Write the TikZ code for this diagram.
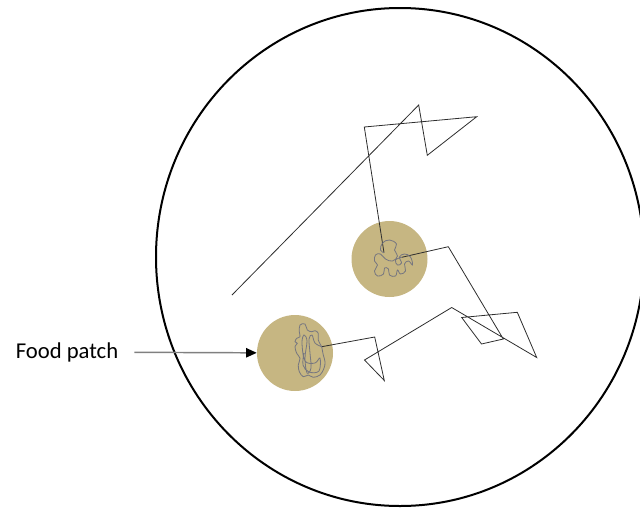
\documentclass[tikz,border=0pt]{standalone}
\usepackage{fontspec}
\setmainfont{Carlito}
\usepackage{xcolor}
\usetikzlibrary{arrows.meta, positioning}
\definecolor{patchtan}{RGB}{198,182,130}
\definecolor{tangle}{RGB}{118,118,128}
\definecolor{walkline}{RGB}{45,45,45}

\begin{document}
\begin{tikzpicture}[
  x=0.75pt, y=-0.75pt,
  patch/.style={circle, fill=patchtan, minimum size=57pt, inner sep=0pt},
  walk/.style={draw=walkline, line width=0.6pt, line join=miter},
  wiggle/.style={draw=tangle, line width=0.6pt},
  label/.style={font=\fontsize{17}{20}\selectfont, inner xsep=12pt},
  arr/.style={-{Triangle[length=8pt, width=7pt, black]}, draw=gray, line width=1.1pt},
]
  \useasboundingbox (0,0) rectangle (640,508);
  \clip (0,0) rectangle (640,508);
  % arena
  \draw[line width=1.5pt] (400,257) ellipse [x radius=183pt, y radius=186.75pt];
  % food patches
  \node[patch] (highpatch) at (389.5,259) {};
  \node[patch] (lowpatch) at (295,353) {};
  % searching walk
  \draw[walk] (232,295) -- (418.7,105) -- (427.3,155.3) -- (476.7,116.7)
    -- (364.3,127) -- (384,252.7);
  \draw[walk] (401.7,257.3) -- (448.3,246.7) -- (503.3,339) -- (481.5,344)
    -- (461.7,317.5) -- (517.3,312.3) -- (536.7,357.5) -- (451.7,307.5)
    -- (364.5,360) -- (384.3,380.5) -- (374.7,337) -- (321.7,346.7);
  % local search inside the patches
  \draw[wiggle, shift={(highpatch.center)}] plot[smooth, tension=0.7] coordinates {
    (-5.5,-6.3) (-9,-9) (-7,-16) (0,-19) (7,-15) (5,-9) (8,-3) (3,2) (-4,0)
    (-9,-5) (-14,-4) (-15,2) (-12,6) (-15,12) (-12,17) (-6,15) (-5,9) (-1,10)
    (0,16) (6,17) (8,11) (11,15) (16,12) (15,5) (19,2) (23,6) (21,-2) (15,-5)
    (10,-2) (12,4) (8,6) (6,1) (12.2,-1.7)};
  \draw[wiggle, shift={(lowpatch.center)}] plot[smooth, tension=0.6] coordinates {
    (26.7,-6.3) (23.3,-13) (23.3,-19.7) (20,-22.3) (16.7,-21.3) (12.3,-23)
    (10,-29) (5,-28) (4.3,-21.3) (5,-16.3) (1.7,-14.7) (0,-11.3) (2.3,-9.7)
    (0,-6.3) (1.7,0.3) (5,5.3) (3.3,12) (4.3,18.7) (8.3,23.7) (13.3,22)
    (18.3,24.3) (25,22) (29,15.3) (30,8.7) (28.3,2) (26.7,-6.3)};
  \draw[wiggle, shift={(lowpatch.center)}] plot[smooth, tension=0.6] coordinates {
    (26.7,-6.3) (20,-10) (17,-18) (14,-14) (15,0) (16,15) (12,20) (10,5)
    (12,-12) (9,-18) (7,-10) (10,8) (20,10) (25,5) (24,18) (14,19) (8,12) (9,0)};
  % label
  \node[label] (foodlabel) at (67,352) {Food patch};
  \draw[arr] (foodlabel) -- (lowpatch);
\end{tikzpicture}
\end{document}
